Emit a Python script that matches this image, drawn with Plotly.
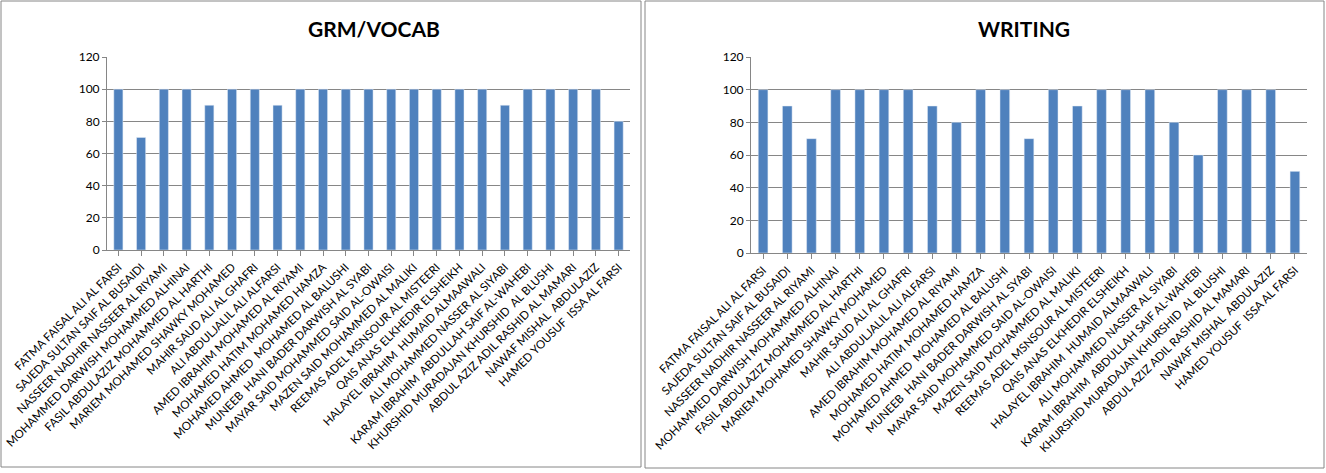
import plotly.graph_objects as go

students = [
    "FATMA FAISAL ALI AL FARSI",
    "SAJEDA SULTAN SAIF AL BUSAIDI",
    "NASSEER NADHIR NASSEER AL RIYAMI",
    "MOHAMMED DARWISH MOHAMMED ALHINAI",
    "FASIL ABDULAZIZ MOHAMMED AL HARTHI",
    "MARIEM MOHAMED SHAWKY MOHAMED",
    "MAHIR SAUD ALI AL GHAFRI",
    "ALI ABDULJALIL ALI ALFARSI",
    "AMED IBRAHIM MOHAMED AL RIYAMI",
    "MOHAMED HATIM MOHAMED HAMZA",
    "MOHAMED AHMED  MOHAMED AL BALUSHI",
    "MUNEEB  HANI BADER DARWISH AL SYABI",
    "MAYAR SAID MOHAMMED SAID AL-OWAISI",
    "MAZEN SAID MOHAMMED AL MALIKI",
    "REEMAS ADEL MSNSOUR AL MISTEERI",
    "QAIS ANAS ELKHEDIR ELSHEIKH",
    "HALAYEL IBRAHIM  HUMAID ALMAAWALI",
    "ALI MOHAMMED NASSER AL SIYABI",
    "KARAM IBRAHIM  ABDULLAH SAIF AL-WAHEBI",
    "KHURSHID MURADAJAN KHURSHID  AL BLUSHI",
    "ABDUL AZIZ ADIL RASHID AL MAMARI",
    "NAWAF MISHAL  ABDULAZIZ",
    "HAMED YOUSUF  ISSA AL FARSI",
]
grm_vocab = [100, 70, 100, 100, 90, 100, 100, 90, 100, 100, 100, 100,
             100, 100, 100, 100, 100, 90, 100, 100, 100, 100, 80]
writing = [100, 90, 70, 100, 100, 100, 100, 90, 80, 100, 100, 70,
           100, 90, 100, 100, 100, 80, 60, 100, 100, 100, 50]
titles = ["GRM/VOCAB", "WRITING"]
y_ticks = [0, 20, 40, 60, 80, 100, 120]

W, H = 1326, 473
BAR = "#4F81BD"
GRID = "#868686"
FONT = "Lato"

fig = go.Figure()
fig.add_trace(go.Bar(x=list(range(len(students))), y=grm_vocab, marker_color=BAR,
                     xaxis="x", yaxis="y", showlegend=False))
fig.add_trace(go.Bar(x=list(range(len(students))), y=writing, marker_color=BAR,
                     xaxis="x2", yaxis="y2", showlegend=False))

def px(x):
    return x / W

def py(y):
    return 1 - y / H

xcommon = dict(
    tickmode="array", tickvals=list(range(len(students))), ticktext=students,
    tickangle=-45, tickfont=dict(family=FONT, size=11.5, color="black"),
    showline=True, linecolor=GRID, linewidth=1, ticks="outside", tickson="boundaries",
    ticklen=5, tickcolor=GRID, showgrid=False, range=[-0.5, len(students) - 0.5],
    fixedrange=True, automargin=False, ticklabeloverflow="allow",
)
ycommon = dict(
    range=[0, 120], tickvals=y_ticks, tickfont=dict(family=FONT, size=12, color="black"),
    showline=True, linecolor=GRID, linewidth=1, ticks="outside", ticklen=4, tickcolor=GRID,
    showgrid=True, gridcolor=GRID, gridwidth=1, zeroline=False, fixedrange=True,
    automargin=False,
)

fig.update_layout(
    width=W, height=H, margin=dict(l=0, r=0, t=0, b=0, autoexpand=False),
    paper_bgcolor="white", plot_bgcolor="white", bargap=0.6,
    xaxis=dict(domain=[px(107), px(630)], anchor="y", **xcommon),
    yaxis=dict(domain=[py(250), py(57)], anchor="x", **ycommon),
    xaxis2=dict(domain=[px(751), px(1307)], anchor="y2", **xcommon),
    yaxis2=dict(domain=[py(253), py(57)], anchor="x2", **ycommon),
    shapes=[
        dict(type="rect", xref="paper", yref="paper", x0=px(1), x1=px(641), y0=py(467), y1=py(1),
             line=dict(color=GRID, width=1)),
        dict(type="rect", xref="paper", yref="paper", x0=px(645), x1=px(1324), y0=py(468), y1=py(1),
             line=dict(color=GRID, width=1)),
    ],
    annotations=[
        dict(text=f"<b>{titles[0]}</b>", xref="paper", yref="paper", x=px(374), y=py(28),
             xanchor="center", yanchor="middle", showarrow=False,
             font=dict(family=FONT, size=21, color="black")),
        dict(text=f"<b>{titles[1]}</b>", xref="paper", yref="paper", x=px(1024), y=py(28),
             xanchor="center", yanchor="middle", showarrow=False,
             font=dict(family=FONT, size=21, color="black")),
    ],
)

fig.write_html("out.html", config={"displayModeBar": False},
               post_script="document.body.style.margin='0';document.body.style.overflow='hidden';")
